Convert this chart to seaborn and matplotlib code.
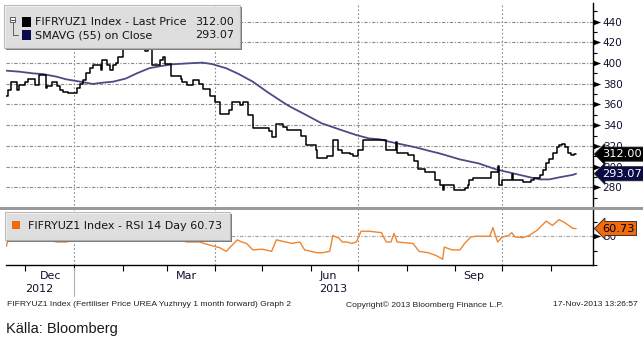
import matplotlib
matplotlib.use("Agg")
import numpy as np
import pandas as pd
import matplotlib.pyplot as plt
import matplotlib.transforms as mtransforms
import matplotlib.dates as mdates
from matplotlib.patches import Rectangle
from matplotlib.lines import Line2D
from matplotlib.path import Path
import seaborn as sns

# ---------------- data ----------------
price_dates = ["2012-11-19", "2012-11-20", "2012-11-22", "2012-11-26", "2012-11-27", "2012-12-01",
               "2012-12-03", "2012-12-07", "2012-12-10", "2012-12-14", "2012-12-15", "2012-12-18",
               "2012-12-21", "2012-12-23", "2012-12-25", "2012-12-28", "2013-01-03", "2013-01-05",
               "2013-01-07", "2013-01-09", "2013-01-11", "2013-01-13", "2013-01-18", "2013-01-19",
               "2013-01-22", "2013-01-24", "2013-01-26", "2013-01-28", "2013-01-29", "2013-02-01",
               "2013-02-03", "2013-02-06", "2013-02-07", "2013-02-12", "2013-02-15", "2013-02-17",
               "2013-02-20", "2013-02-25", "2013-02-27", "2013-02-28", "2013-03-04", "2013-03-10",
               "2013-03-11", "2013-03-14", "2013-03-18", "2013-03-22", "2013-03-24", "2013-03-29",
               "2013-04-01", "2013-04-04", "2013-04-10", "2013-04-12", "2013-04-17", "2013-04-19",
               "2013-04-22", "2013-04-25", "2013-05-05", "2013-05-07", "2013-05-10", "2013-05-14",
               "2013-05-17", "2013-05-26", "2013-05-29", "2013-06-04", "2013-06-05", "2013-06-11",
               "2013-06-15", "2013-06-18", "2013-06-21", "2013-06-26", "2013-06-28", "2013-07-01",
               "2013-07-04", "2013-07-19", "2013-07-25", "2013-07-26", "2013-08-02", "2013-08-06",
               "2013-08-08", "2013-08-13", "2013-08-19", "2013-08-22", "2013-08-24", "2013-08-25",
               "2013-08-31", "2013-09-07", "2013-09-09", "2013-09-10", "2013-09-12", "2013-09-24",
               "2013-09-28", "2013-09-29", "2013-10-01", "2013-10-07", "2013-10-08", "2013-10-14",
               "2013-10-19", "2013-10-21", "2013-10-25", "2013-10-27", "2013-10-29", "2013-10-31",
               "2013-11-02", "2013-11-05", "2013-11-06", "2013-11-08", "2013-11-10", "2013-11-12",
               "2013-11-14", "2013-11-16", "2013-11-17"]
price_values = [368, 374, 382, 374, 379, 382,
                385, 379, 388, 376, 378, 382,
                378, 374, 372, 371, 376, 380,
                384, 390, 395, 398, 393, 403,
                398, 393, 398, 400, 406, 422,
                417, 442, 420, 422, 412, 414,
                398, 403, 406, 399, 387, 385,
                382, 379, 384, 380, 375, 368,
                362, 351, 355, 362, 359, 362,
                350, 337, 334, 329, 341, 338,
                335, 330, 321, 316, 308, 310,
                326, 316, 313, 312, 310, 316,
                326, 316, 324, 313, 311, 305,
                298, 295, 287, 282, 277, 282,
                277, 279, 282, 287, 288.5, 295,
                301, 282, 287, 293, 287, 285,
                287, 288.5, 292, 297, 303, 307,
                313, 319, 321, 322, 319, 313,
                311, 312.5, 312]

sma_dates = ["2012-11-19", "2012-11-27", "2012-12-06", "2012-12-12", "2012-12-21", "2012-12-27",
             "2013-01-05", "2013-01-13", "2013-01-19", "2013-01-26", "2013-02-03", "2013-02-10",
             "2013-02-18", "2013-02-25", "2013-03-05", "2013-03-16", "2013-03-24", "2013-03-30",
             "2013-04-08", "2013-04-16", "2013-04-25", "2013-05-04", "2013-05-12", "2013-05-18",
             "2013-05-29", "2013-06-08", "2013-06-19", "2013-06-30", "2013-07-08", "2013-07-15",
             "2013-07-21", "2013-07-29", "2013-08-07", "2013-08-15", "2013-08-22", "2013-09-04",
             "2013-09-16", "2013-09-27", "2013-10-08", "2013-10-19", "2013-10-25", "2013-10-31",
             "2013-11-06", "2013-11-15", "2013-11-17"]
sma_values = [392.6, 391.7, 390.0, 389.4, 386.8, 384.3,
              382.0, 379.8, 381.0, 382.0, 385.0, 390.0,
              395.0, 397.0, 398.8, 399.8, 400.4, 399.0,
              395.0, 389.4, 382.0, 372.3, 364.3, 358.5,
              349.8, 341.7, 336.0, 330.4, 327.2, 326.3,
              324.0, 321.4, 318.5, 315.3, 312.7, 306.9,
              303.0, 297.3, 293.4, 289.5, 287.6, 287.6,
              289.5, 292.0, 293.07]

rsi_dates = ["2012-11-19", "2012-11-20", "2012-11-23", "2012-11-27", "2012-12-02", "2012-12-06",
             "2012-12-12", "2012-12-17", "2012-12-21", "2012-12-27", "2013-01-01", "2013-01-05",
             "2013-01-11", "2013-01-18", "2013-01-29", "2013-02-04", "2013-02-07", "2013-02-12",
             "2013-02-18", "2013-02-22", "2013-03-01", "2013-03-07", "2013-03-14", "2013-03-22",
             "2013-03-28", "2013-04-04", "2013-04-08", "2013-04-12", "2013-04-15", "2013-04-18",
             "2013-04-21", "2013-04-25", "2013-05-01", "2013-05-07", "2013-05-10", "2013-05-16",
             "2013-05-20", "2013-05-25", "2013-05-28", "2013-06-05", "2013-06-08", "2013-06-13",
             "2013-06-15", "2013-06-19", "2013-06-21", "2013-06-24", "2013-06-27", "2013-06-30",
             "2013-07-03", "2013-07-08", "2013-07-16", "2013-07-19", "2013-07-22", "2013-07-24",
             "2013-07-26", "2013-08-05", "2013-08-09", "2013-08-15", "2013-08-20", "2013-08-24",
             "2013-08-25", "2013-08-30", "2013-09-04", "2013-09-07", "2013-09-11", "2013-09-14",
             "2013-09-23", "2013-09-25", "2013-09-28", "2013-10-01", "2013-10-05", "2013-10-07",
             "2013-10-09", "2013-10-14", "2013-10-18", "2013-10-23", "2013-10-29", "2013-11-02",
             "2013-11-06", "2013-11-09", "2013-11-15", "2013-11-17"]
rsi_values = [36, 47, 46, 49, 50, 47,
              49, 44, 42, 42, 44, 54,
              55, 62, 67, 78, 71, 62,
              54, 47, 45, 46, 42, 42,
              38, 34, 29, 38, 45, 42,
              40, 31, 32, 29, 45, 42,
              40, 42, 31, 27, 27, 29,
              51, 47, 42, 42, 40, 42,
              57, 57, 55, 42, 42, 54,
              42, 40, 29, 27, 23, 18,
              35, 31, 31, 40, 49, 50,
              50, 62, 42, 49, 51, 55,
              49, 48, 51, 58, 71, 65,
              73, 70, 61, 60.73]

price_ticks = [280, 300, 320, 340, 360, 380, 400, 420, 440]
rsi_ticks = [50]
month_labels = ["Dec", "Mar", "Jun", "Sep"]
month_label_dates = ["2012-12-17", "2013-03-14", "2013-06-12", "2013-09-13"]
year_labels = ["2012", "2013"]
year_label_dates = ["2012-12-10", "2013-06-15"]
legend_price = ("FIFRYUZ1 Index - Last Price", "312.00")
legend_sma = ("SMAVG (55) on Close", "293.07")
legend_rsi = "FIFRYUZ1 Index - RSI 14 Day 60.73"
last_price, last_sma, last_rsi = 312.00, 293.07, 60.73

# ---------------- styling ----------------
sns.set_style("white")
plt.rcParams['font.family'] = ['DejaVu Sans']

C_PRICE = "#000000"
C_SMA = "#4b4b85"
C_RSI = "#f0852f"
C_GRID = "#8a8a8a"

W, H = 643, 342
fig = plt.figure(figsize=(W / 100, H / 100), dpi=100)
fig.patch.set_facecolor("white")


def fx(px):
    return px / W


def fy(py):
    return 1 - py / H


ax1 = fig.add_axes([fx(6), fy(209), fx(593) - fx(6), fy(3) - fy(209)])
ax2 = fig.add_axes([fx(6), fy(265), fx(593) - fx(6), fy(210) - fy(265)], sharex=ax1)

df_p = pd.DataFrame({"date": pd.to_datetime(price_dates), "v": price_values})
df_s = pd.DataFrame({"date": pd.to_datetime(sma_dates), "v": sma_values})
df_r = pd.DataFrame({"date": pd.to_datetime(rsi_dates), "v": rsi_values})

sns.lineplot(data=df_s, x="date", y="v", ax=ax1, color=C_SMA, lw=1.3, estimator=None, zorder=3)
sns.lineplot(data=df_p, x="date", y="v", ax=ax1, color=C_PRICE, lw=1.1, estimator=None,
             drawstyle="steps-post", zorder=4)
sns.lineplot(data=df_r, x="date", y="v", ax=ax2, color=C_RSI, lw=1.0, estimator=None, zorder=3)

xmin = pd.Timestamp("2012-11-18 17:00")
xmax = pd.Timestamp("2013-11-27 19:00")
ax1.set_xlim(xmin, xmax)
ax1.set_ylim(259, 458)
ax2.set_ylim(11.5, 86.5)

for ax in (ax1, ax2):
    ax.set_xlabel("")
    ax.set_ylabel("")
    for s in ("left", "top", "bottom"):
        ax.spines[s].set_visible(False)
    ax.spines["right"].set_color("black")
    ax.spines["right"].set_linewidth(1.0)
    ax.yaxis.tick_right()
    ax.set_facecolor("white")

ax2.spines["bottom"].set_visible(True)
ax2.spines["bottom"].set_color("black")
ax2.spines["bottom"].set_linewidth(1.0)

# grid lines
quarters = pd.to_datetime(["2013-01-01", "2013-04-01", "2013-07-01", "2013-10-01"])
for q in quarters:
    for ax in (ax1, ax2):
        ax.axvline(q, color=C_GRID, lw=0.8, ls=(0, (1.5, 2)), zorder=1)
for t in price_ticks:
    ax1.axhline(t, color=C_GRID, lw=0.8, ls=(0, (3, 1.5, 1, 1.5)), zorder=1)
for t in rsi_ticks:
    ax2.axhline(t, color="#a0a0a0", lw=0.8, ls=(0, (3, 1.5, 1, 1.5)), zorder=1)

# y axes
ax1.set_yticks(price_ticks)
ax1.set_yticklabels([str(t) for t in price_ticks])
ax1.set_yticks(np.arange(270, 460, 10), minor=True)
ax1.tick_params(axis="y", which="major", length=0, pad=7, labelsize=7.5, labelcolor="#101030")
ax1.tick_params(axis="y", which="minor", length=3, width=0.8, direction="out", color="black", right=True)
ax2.set_yticks(rsi_ticks)
ax2.set_yticklabels([str(t) for t in rsi_ticks])
ax2.set_yticks([10, 30, 70], minor=True)
ax2.tick_params(axis="y", which="major", length=0, pad=7, labelsize=7.5, labelcolor="#101030")
ax2.tick_params(axis="y", which="minor", length=3, width=0.8, direction="out", color="black", right=True)

tri = Path([(0, -0.6), (1.6, 0), (0, 0.6), (0, -0.6)],
           [Path.MOVETO, Path.LINETO, Path.LINETO, Path.CLOSEPOLY])
ty1 = mtransforms.blended_transform_factory(ax1.transAxes, ax1.transData)
for t in price_ticks:
    ax1.plot([1.0], [t], transform=ty1, marker=tri, ms=11, color="black", mec="none",
             clip_on=False, zorder=5)
ty2 = mtransforms.blended_transform_factory(ax2.transAxes, ax2.transData)
for t in rsi_ticks:
    ax2.plot([1.0], [t], transform=ty2, marker=tri, ms=11, color="black", mec="none",
             clip_on=False, zorder=5)

# x axis
ax1.tick_params(axis="x", which="both", bottom=False, labelbottom=False)
ax2.set_xticks(pd.to_datetime(month_label_dates))
ax2.set_xticklabels(month_labels)
ax2.set_xticks(pd.date_range("2012-12-01", "2013-11-01", freq="MS"), minor=True)
ax2.tick_params(axis="x", which="major", length=0, pad=4, labelsize=8, labelcolor="#101030")
ax2.tick_params(axis="x", which="minor", length=4.5, width=0.8, direction="out", color="black",
                bottom=True)

txf = mtransforms.blended_transform_factory(ax2.transData, fig.transFigure)
for lab, d in zip(year_labels, year_label_dates):
    fig.text(mdates.date2num(pd.Timestamp(d)), fy(289), lab, transform=txf, ha="center",
             va="center", fontsize=8, color="#101030")
jan1 = mdates.date2num(pd.Timestamp("2013-01-01"))
fig.add_artist(Line2D([jan1, jan1], [fy(268), fy(296)], transform=txf, color="#b0b0b0", lw=0.8))

# gray separator bar
fig.add_artist(Rectangle((0, fy(210.5)), 1, 3 / H, transform=fig.transFigure,
                         facecolor="#9a9a9a", edgecolor="none", zorder=6))


# legends
def rect_px(x0, y0, x1, y1, **kw):
    r = Rectangle((fx(x0), fy(y1)), (x1 - x0) / W, (y1 - y0) / H, transform=fig.transFigure, **kw)
    fig.add_artist(r)
    return r


rect_px(6, 7, 242, 50, facecolor="#7a7a7a", edgecolor="none", zorder=7)
rect_px(4, 5, 240, 48, facecolor="#f0f0f0", edgecolor="#b0b0b0", lw=0.8, alpha=0.85, zorder=8)
rect_px(10, 17, 15, 22, facecolor="white", edgecolor="#606060", lw=0.7, zorder=9)
fig.add_artist(Line2D([fx(11), fx(14)], [fy(19.5)] * 2, color="#404040", lw=0.7, zorder=9))
fig.add_artist(Line2D([fx(12.5)] * 2, [fy(22), fy(35)], color="#606060", lw=0.7, zorder=9))
fig.add_artist(Line2D([fx(12.5), fx(18)], [fy(35)] * 2, color="#606060", lw=0.7, zorder=9))
rect_px(22, 17, 31, 27, facecolor="black", edgecolor="none", zorder=9)
rect_px(22, 30, 31, 40, facecolor="#0a0a4a", edgecolor="none", zorder=9)
LEG_FS = 8.0
fig.text(fx(35), fy(22), legend_price[0], ha="left", va="center", fontsize=LEG_FS, color="#151515", zorder=10)
fig.text(fx(234), fy(22), legend_price[1], ha="right", va="center", fontsize=LEG_FS, color="#151515", zorder=10)
fig.text(fx(35), fy(35), legend_sma[0], ha="left", va="center", fontsize=LEG_FS, color="#151515", zorder=10)
fig.text(fx(234), fy(35), legend_sma[1], ha="right", va="center", fontsize=LEG_FS, color="#151515", zorder=10)

rect_px(7, 214, 232, 242, facecolor="#7a7a7a", edgecolor="none", zorder=7)
rect_px(5, 212, 230, 240, facecolor="#f0f0f0", edgecolor="#b0b0b0", lw=0.8, alpha=0.85, zorder=8)
rect_px(12, 221, 20, 229, facecolor="#f06a10", edgecolor="none", zorder=9)
fig.text(fx(28), fy(226), legend_rsi, ha="left", va="center", fontsize=LEG_FS, color="#151515", zorder=10)

# last value boxes
for val, fc, tc, ax in ((last_price, "black", "white", ax1), (last_sma, "#0a0a45", "white", ax1),
                        (last_rsi, "#f06a10", "black", ax2)):
    tr = mtransforms.blended_transform_factory(fig.transFigure, ax.transData)
    ax.text(fx(602), val, f"{val:.2f}", transform=tr, ha="left", va="center", fontsize=8.2,
            color=tc, zorder=12, clip_on=False,
            bbox=dict(boxstyle="larrow,pad=0.18", fc=fc, ec="#202020", lw=0.6))

# footer
foot_font = ["Liberation Sans", "DejaVu Sans"]
fig.text(fx(7), fy(305), "FIFRYUZ1 Index (Fertiliser Price UREA Yuzhnyy 1 month forward) Graph 2",
         ha="left", va="center", fontsize=6.1, family=foot_font, color="#202020")
fig.text(fx(346), fy(305), "Copyright\u00a9 2013 Bloomberg Finance L.P.", ha="left", va="center",
         fontsize=6.1, family=foot_font, color="#202020")
fig.text(fx(638), fy(305), "17-Nov-2013 13:26:57", ha="right", va="center", fontsize=6.1,
         family=foot_font, color="#202020")
fig.text(fx(6), fy(329), "Källa: Bloomberg", ha="left", va="center", fontsize=10.5,
         family=["Liberation Sans", "DejaVu Sans"], color="#1a1a1a")

fig.savefig("out.png", dpi=100, facecolor="white")
